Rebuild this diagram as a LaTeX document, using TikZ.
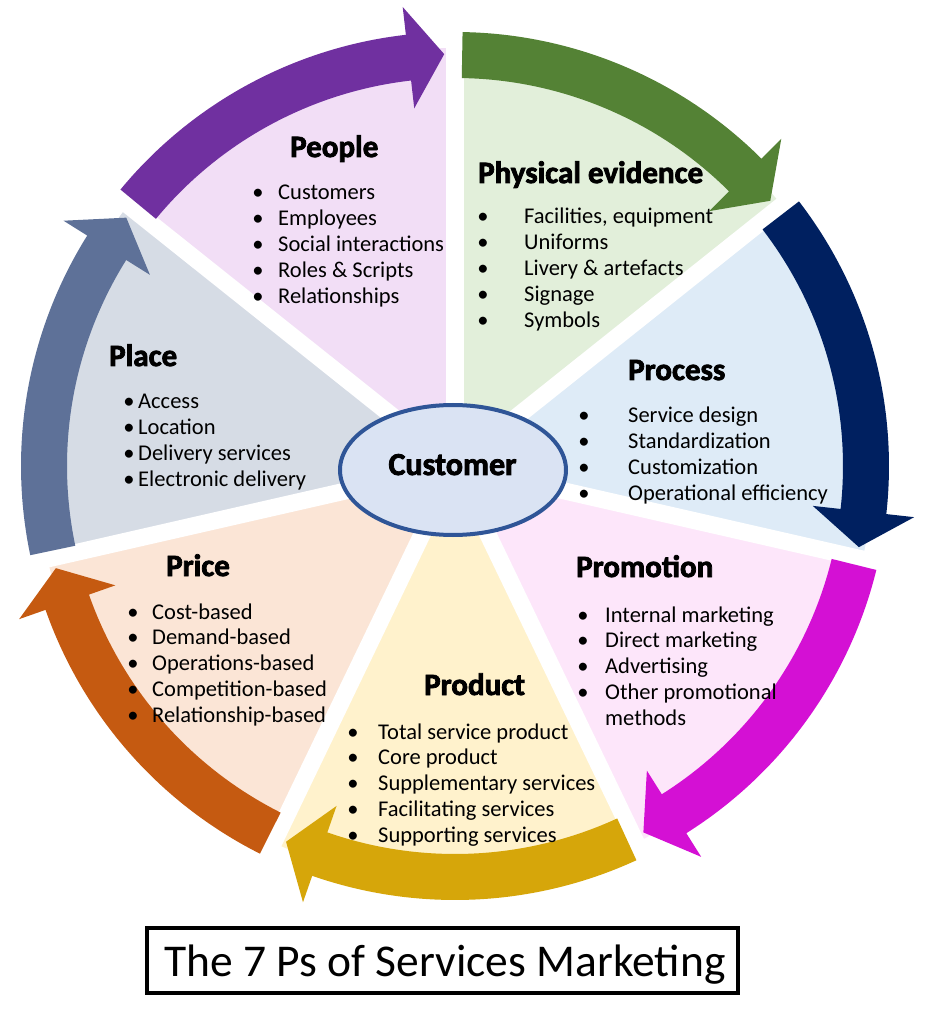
\documentclass[tikz,border=0pt]{standalone}
\usepackage{fontspec}
\setmainfont{Carlito}
\newfontfamily\headfont{Carlito}[FakeBold=2.5]
\usetikzlibrary{shapes.geometric}

\definecolor{peoF}{RGB}{242,222,246}
\definecolor{peoA}{RGB}{112,48,160}
\definecolor{phyF}{RGB}{226,239,218}
\definecolor{phyA}{RGB}{84,130,53}
\definecolor{proF}{RGB}{222,235,247}
\definecolor{proA}{RGB}{0,32,96}
\definecolor{prmF}{RGB}{253,230,250}
\definecolor{prmA}{RGB}{212,16,212}
\definecolor{prdF}{RGB}{255,242,204}
\definecolor{prdA}{RGB}{214,166,10}
\definecolor{priF}{RGB}{251,229,214}
\definecolor{priA}{RGB}{197,90,17}
\definecolor{plaF}{RGB}{214,220,229}
\definecolor{plaA}{RGB}{94,113,152}
\definecolor{custF}{RGB}{218,227,243}
\definecolor{custB}{RGB}{47,85,151}

\tikzset{
  itemtext/.style={font=\fontsize{22.5}{26}\selectfont, inner sep=0pt, anchor=base west},
  bul/.style={font=\fontsize{22.5}{26}\selectfont, inner sep=0pt, anchor=base},
  heading/.style={font=\headfont\bfseries\fontsize{31}{36}\selectfont, inner sep=0pt, anchor=base west},
}

\newcommand\wedgefill[3]{\fill[#3] (0,0) -- ({#1}:418) arc[start angle={#1}, end angle={#2}, radius=418] -- cycle;}
\newcommand\wheelarrow[3]{\fill[#3] ({#1-1.0}:434) arc[start angle={#1-1.0}, end angle={#2+6.5}, radius=434] -- ({#2+6.5}:462) -- ({#2+1.5}:412) -- ({#2+6.5}:360) -- ({#2+6.5}:388) arc[start angle={#2+6.5}, end angle={#1-1.0}, radius=388] -- cycle;}
\newcommand\itemlist[5]{%
  \foreach \t [count=\i from 0] in {#5} {%
    \node[bul] (#1b\i) at (#2,{#4+25.8*\i}) {\textbullet};
    \node[itemtext] (#1t\i) at (#3,{#4+25.8*\i}) {\t};
  }}

\begin{document}
\begin{tikzpicture}[x=1pt,y=1pt]
\useasboundingbox (-455,-543) rectangle (486,466);
% sector fills
\wedgefill{141.43}{90}{peoF}
\wedgefill{90}{38.57}{phyF}
\wedgefill{38.57}{-12.86}{proF}
\wedgefill{-12.86}{-64.29}{prmF}
\wedgefill{-64.29}{-115.71}{prdF}
\wedgefill{-115.71}{-167.14}{priF}
\wedgefill{-167.14}{-218.57}{plaF}
% white spokes
\foreach \a in {90,38.57,-12.86,-64.29,-115.71,-167.14,141.43}
  \draw[white, line width=17] (0,0) -- (\a:445);
% arrows
\wheelarrow{141.43}{90}{peoA}
\wheelarrow{90}{38.57}{phyA}
\wheelarrow{38.57}{-12.86}{proA}
\wheelarrow{-12.86}{-64.29}{prmA}
\wheelarrow{-64.29}{-115.71}{prdA}
\wheelarrow{-115.71}{-167.14}{priA}
\wheelarrow{-167.14}{-218.57}{plaA}

\begin{scope}[shift={(-455,466)}, yscale=-1]
  \node[ellipse, draw=custB, fill=custF, line width=4, minimum width=226, minimum height=130, inner sep=0] (cust) at (453,470) {};
  \node[font=\headfont\bfseries\fontsize{32}{36}\selectfont, inner sep=0pt, anchor=base] (custtext) at (452.5,475) {Customer};

  \node[heading] (peoh) at (290,157) {People};
  \itemlist{peo}{258}{278}{200}{Customers, Employees, Social interactions, Roles \& Scripts, Relationships}

  \node[heading] (phyh) at (478,183) {Physical evidence};
  \itemlist{phy}{483}{524}{224}{{Facilities, equipment}, Uniforms, Livery \& artefacts, Signage, Symbols}

  \node[heading] (proh) at (628,380) {Process};
  \itemlist{pro}{584}{628}{423}{Service design, Standardization, Customization, Operational efficiency}

  \node[heading] (prmh) at (576,577) {Promotion};
  \itemlist{prm}{583}{605}{622}{Internal marketing, Direct marketing, Advertising, Other promotional}
  \node[itemtext] (prmt4) at (605,{622+4*25.8}) {methods};

  \node[heading] (prdh) at (424,695) {Product};
  \itemlist{prd}{353}{378}{739}{Total service product, Core product, Supplementary services, Facilitating services, Supporting services}

  \node[heading] (prih) at (166,576) {Price};
  \itemlist{pri}{133}{152}{619}{Cost-based, Demand-based, Operations-based, Competition-based, Relationship-based}

  \node[heading] (plah) at (109,366) {Place};
  \itemlist{pla}{129}{138}{409}{Access, Location, Delivery services, Electronic delivery}

  \node[draw=black, line width=4, minimum width=591, minimum height=65, inner sep=0] (titlebox) at (442.5,960.5) {};
  \node[font=\fontsize{45.5}{50}\selectfont, inner sep=0pt, anchor=base] (title) at (445,976) {The 7 Ps of Services Marketing};
\end{scope}
\end{tikzpicture}
\end{document}
